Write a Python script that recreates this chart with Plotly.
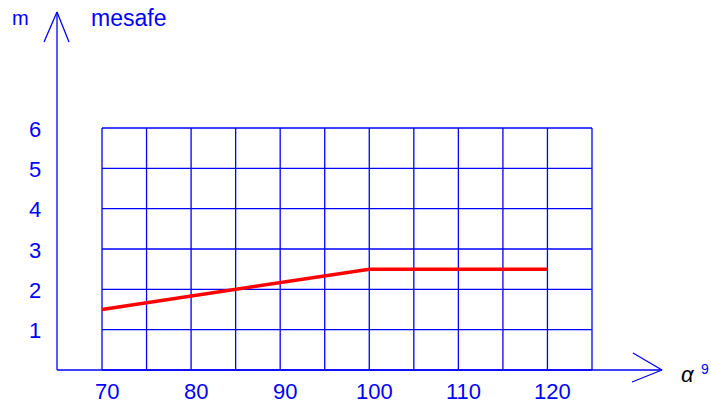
import plotly.graph_objects as go

# ---- data ----
alpha = [70, 100, 120]          # angle (degrees)
mesafe = [1.5, 2.5, 2.5]        # distance (m)
x_tick_labels = [70, 80, 90, 100, 110, 120]
y_tick_labels = [1, 2, 3, 4, 5, 6]
grid_x = [70, 75, 80, 85, 90, 95, 100, 105, 110, 115, 120, 125]
grid_y = [0, 1, 2, 3, 4, 5, 6]

W, H = 711, 408
BLUE = "#0000FF"
FONT = "Liberation Sans"

# scale: pixels per unit
PX_X = 490 / 55.0
PX_Y = 242 / 6.0
X0_PX, Y0_PX = 102, 370
x_range = [70 - X0_PX / PX_X, 70 + (W - X0_PX) / PX_X]
y_range = [-(H - Y0_PX) / PX_Y, Y0_PX / PX_Y]

def dx(px):
    return px / PX_X

def dy(px):
    return px / PX_Y

fig = go.Figure()

# grid
gx, gy = [], []
for v in grid_x:
    gx += [v, v, None]
    gy += [grid_y[0], grid_y[-1], None]
for v in grid_y:
    gx += [grid_x[0], grid_x[-1], None]
    gy += [v, v, None]
fig.add_trace(go.Scatter(x=gx, y=gy, mode="lines",
                         line=dict(color=BLUE, width=1.3), hoverinfo="skip"))

# axes with arrows
ax_x = 70 - dx(45)        # y-axis position
x_tip = 70 + dx(560)
y_tip = dy(358)
ax_lines_x = [ax_x, x_tip, None,
              x_tip - dx(29), x_tip, x_tip - dx(30), None,
              ax_x, ax_x, None,
              ax_x - dx(13), ax_x, ax_x + dx(12)]
ax_lines_y = [0, 0, None,
              dy(17), 0, -dy(12), None,
              0, y_tip, None,
              y_tip - dy(30), y_tip, y_tip - dy(30)]
fig.add_trace(go.Scatter(x=ax_lines_x, y=ax_lines_y, mode="lines",
                         line=dict(color=BLUE, width=1.3), hoverinfo="skip"))

# data line
fig.add_trace(go.Scatter(x=alpha, y=mesafe, mode="lines",
                         line=dict(color="red", width=3.5)))

font_lbl = dict(family=FONT, size=22, color=BLUE)
annotations = []
for v in x_tick_labels:
    annotations.append(dict(x=v, y=0, xref="x", yref="y", text=str(v),
                            showarrow=False, font=font_lbl,
                            xshift=5, yshift=-21, xanchor="center", yanchor="middle"))
for v in y_tick_labels:
    annotations.append(dict(x=ax_x - dx(22), y=v, xref="x", yref="y", text=str(v),
                            showarrow=False, font=font_lbl,
                            xanchor="center", yanchor="middle", yshift=-1))

annotations += [
    dict(x=ax_x - dx(37), y=y_tip - dy(6), xref="x", yref="y", text="m",
         showarrow=False, font=dict(family=FONT, size=20, color=BLUE),
         xanchor="center", yanchor="middle"),
    dict(x=ax_x + dx(71), y=y_tip - dy(6), xref="x", yref="y", text="mesafe",
         showarrow=False, font=dict(family=FONT, size=23, color=BLUE),
         xanchor="center", yanchor="middle"),
    dict(x=x_tip + dx(26), y=-dy(4), xref="x", yref="y", text="<i>α</i>",
         showarrow=False, font=dict(family=FONT, size=22, color="black"),
         xanchor="center", yanchor="middle"),
    dict(x=x_tip + dx(43), y=dy(1), xref="x", yref="y", text="9",
         showarrow=False, font=dict(family=FONT, size=14, color=BLUE),
         xanchor="center", yanchor="middle"),
]

fig.update_layout(
    width=W, height=H,
    margin=dict(l=0, r=0, t=0, b=0),
    paper_bgcolor="white", plot_bgcolor="white",
    showlegend=False,
    xaxis=dict(range=x_range, visible=False, fixedrange=True),
    yaxis=dict(range=y_range, visible=False, fixedrange=True),
    annotations=annotations,
)

fig.write_html("out.html", config={"displayModeBar": False},
               post_script="document.body.style.margin='0';document.body.style.overflow='hidden';")
